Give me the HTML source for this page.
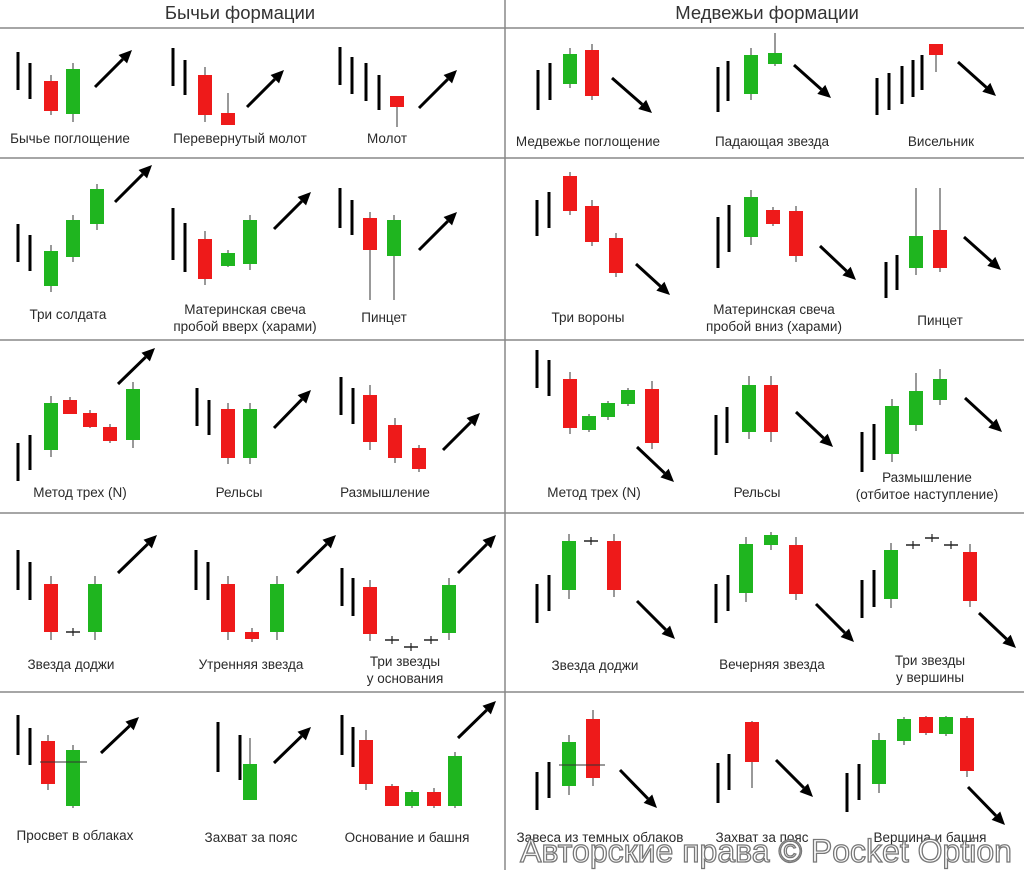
<!DOCTYPE html>
<html><head><meta charset="utf-8">
<style>
html,body{margin:0;padding:0;background:#fff;}
svg{display:block;font-family:"Liberation Sans","DejaVu Sans",sans-serif;}
</style></head>
<body>
<svg id="chart" width="1024" height="870" viewBox="0 0 1024 870" xmlns="http://www.w3.org/2000/svg">
<rect x="0" y="0" width="1024" height="870" fill="#fff"/>
<g stroke="#888" stroke-width="1.5">
<line x1="0" y1="28" x2="1024" y2="28"/>
<line x1="0" y1="158" x2="1024" y2="158"/>
<line x1="0" y1="340" x2="1024" y2="340"/>
<line x1="0" y1="513" x2="1024" y2="513"/>
<line x1="0" y1="692" x2="1024" y2="692"/>
<line x1="505" y1="0" x2="505" y2="870"/>
</g>
<text x="240" y="19" font-size="18.5" text-anchor="middle" fill="#333">Бычьи формации</text>
<text x="767" y="19" font-size="18.5" text-anchor="middle" fill="#333">Медвежьи формации</text>
<g id="marks"></g>
<text x="766" y="862" font-size="32" text-anchor="middle" fill="#fff" stroke="#777" stroke-width="1.3">Авторские права © Pocket Option</text>
</svg>
<script>
// Pattern names
const patternNames = ["Бычье поглощение","Перевернутый молот","Молот","Три солдата","Материнская свеча|пробой вверх (харами)","Пинцет","Метод трех (N)","Рельсы","Размышление","Звезда доджи","Утренняя звезда","Три звезды|у основания","Просвет в облаках","Захват за пояс","Основание и башня","Медвежье поглощение","Падающая звезда","Висельник","Три вороны","Материнская свеча|пробой вниз (харами)","Пинцет","Метод трех (N)","Рельсы","Размышление|(отбитое наступление)","Звезда доджи","Вечерняя звезда","Три звезды|у вершины","Завеса из темных облаков","Захват за пояс","Вершина и башня"];
// label anchor [x, y]
const labelPos = [[70,143],[240,143],[387,143],[68,319],[245,314],[384,322],[80,497],[239,497],[385,497],[71,669],[251,669],[405,666],[75,840],[251,842],[407,842],[588,146],[772,146],[941,146],[588,322],[774,314],[940,325],[594,497],[757,497],[927,482],[595,670],[772,669],[930,665],[600,842],[762,842],[930,842]];
// trend lines per pattern: [x, top, bottom]
const trendLines = [
 [[18,52,90],[30,63,99]],[[173,48,86],[185,60,95]],[[340,47,85],[352,57,94],[366,63,101],[379,75,110]],
 [[18,224,262],[30,235,271]],[[173,208,260],[185,223,272]],[[340,188,228],[352,200,235]],
 [[18,443,481],[30,435,470]],[[197,388,426],[209,400,435]],[[341,377,415],[353,388,424]],
 [[18,550,590],[30,562,600]],[[196,550,590],[208,562,600]],[[342,568,606],[353,578,616]],
 [[18,715,755],[30,728,765]],[[218,722,772],[240,735,780]],[[342,715,755],[353,727,767]],
 [[538,70,110],[550,63,100]],[[718,67,112],[728,61,101]],[[877,78,115],[889,73,110],[902,66,104],[913,60,97],[922,55,90]],
 [[537,200,236],[549,192,228]],[[718,217,268],[729,205,252]],[[886,262,298],[897,255,290]],
 [[537,350,388],[549,360,396]],[[716,415,455],[727,407,443]],[[862,432,472],[874,424,460]],
 [[537,584,623],[549,575,611]],[[716,584,623],[728,575,611]],[[862,580,618],[874,570,607]],
 [[537,772,810],[549,762,798]],[[718,763,803],[729,754,790]],[[847,773,812],[859,764,800]]
];
// candles: [x, high, bodyTop, bodyBottom, low, type] type g=green r=red d=doji
const candles = [
 [[51,75,81,111,115,"r"],[73,63,69,114,122,"g"]],
 [[205,67,75,115,122,"r"],[228,93,113,125,125,"r"]],
 [[397,96,96,107,127,"r"]],
 [[51,245,251,286,292,"g"],[73,215,220,257,262,"g"],[97,184,189,224,230,"g"]],
 [[205,231,239,279,285,"r"],[228,250,253,266,267,"g"],[250,215,220,264,270,"g"]],
 [[370,212,218,250,300,"r"],[394,215,220,256,300,"g"]],
 [[51,396,403,450,457,"g"],[70,397,400,414,414,"r"],[90,410,413,427,428,"r"],[110,424,427,441,443,"r"],[133,382,389,440,448,"g"]],
 [[228,403,409,458,464,"r"],[250,403,409,458,464,"g"]],
 [[370,385,395,442,450,"r"],[395,418,425,458,463,"r"],[419,445,448,469,472,"r"]],
 [[51,576,584,632,640,"r"],[73,628,632,632,636,"d"],[95,576,584,632,640,"g"]],
 [[228,576,584,632,640,"r"],[252,628,632,639,642,"r"],[277,576,584,632,640,"g"]],
 [[370,580,587,634,641,"r"],[392,636,640,640,644,"d"],[411,643,647,647,651,"d"],[431,636,640,640,644,"d"],[449,578,585,633,640,"g"]],
 [[48,735,741,784,790,"r"],[73,745,750,806,808,"g"]],
 [[250,738,764,800,800,"g"]],
 [[366,730,740,784,790,"r"],[392,784,786,806,806,"r"],[412,790,792,806,808,"g"],[434,788,792,806,808,"r"],[455,752,756,806,808,"g"]],
 [[570,48,54,84,88,"g"],[592,44,50,96,100,"r"]],
 [[751,48,55,94,100,"g"],[775,33,53,64,66,"g"]],
 [[936,44,44,55,72,"r"]],
 [[570,172,176,211,215,"r"],[592,200,206,242,246,"r"],[616,233,238,273,277,"r"]],
 [[751,190,197,237,245,"g"],[773,207,210,224,226,"r"],[796,206,211,256,262,"r"]],
 [[916,188,236,268,275,"g"],[940,188,230,268,272,"r"]],
 [[570,372,379,428,434,"r"],[589,414,416,430,432,"g"],[608,401,403,417,420,"g"],[628,388,390,404,406,"g"],[652,381,389,443,449,"r"]],
 [[749,376,385,432,439,"g"],[771,376,385,432,442,"r"]],
 [[892,399,406,454,462,"g"],[916,373,391,425,431,"g"],[940,369,379,400,405,"g"]],
 [[569,534,541,590,599,"g"],[591,537,541,541,545,"d"],[614,534,541,590,597,"r"]],
 [[746,537,544,593,602,"g"],[771,532,535,545,550,"g"],[796,537,545,594,600,"r"]],
 [[891,543,550,599,608,"g"],[913,541,545,545,549,"d"],[932,534,538,538,542,"d"],[951,541,545,545,549,"d"],[970,544,552,601,607,"r"]],
 [[569,735,742,786,795,"g"],[593,710,719,778,786,"r"]],
 [[752,721,722,762,788,"r"]],
 [[879,733,740,784,793,"g"],[904,717,719,741,745,"g"],[926,716,717,733,735,"r"],[946,716,717,734,736,"g"],[967,716,718,771,777,"r"]]
];
// arrows [x1,y1,x2,y2]
const arrows = [[95,87,132,50],[247,107,284,70],[419,108,457,70],[115,202,152,165],[274,229,311,192],[419,250,457,212],[118,384,155,348],[274,428,311,390],[443,450,480,413],[118,573,157,535],[297,573,336,535],[458,573,496,535],[101,753,139,717],[274,763,311,727],[458,738,496,701],
 [612,78,652,113],[794,65,831,98],[958,62,996,96],[636,264,670,295],[820,246,856,280],[964,237,1001,270],[637,447,674,482],[796,412,833,447],[965,398,1002,432],[637,601,675,639],[816,604,854,642],[979,613,1016,648],[620,770,657,808],[776,760,813,797],[968,787,1005,825]];
// cloud reference lines [x1,x2,y]
const refLines = [[40,87,762],[559,605,765]];

const NS="http://www.w3.org/2000/svg";
const g=document.getElementById('marks');
function mk(tag,attrs,parent){const e=document.createElementNS(NS,tag);for(const k in attrs)e.setAttribute(k,attrs[k]);(parent||g).appendChild(e);return e;}
const BW=14;
patternNames.forEach((name,i)=>{
  const grp=mk('g',{});
  
  
  trendLines[i].forEach(t=>{
    const l=mk('line',{x1:t[0],y1:t[1],x2:t[0],y2:t[2],stroke:'#000','stroke-width':3},grp);
    
    
  });
  candles[i].forEach(c=>{
    const cg=mk('g',{},grp);
    
    
    if(c[5]==='d'){
      mk('line',{x1:c[0],y1:c[1],x2:c[0],y2:c[4],stroke:'#222','stroke-width':1.2},cg);
      mk('line',{x1:c[0]-7,y1:c[2],x2:c[0]+7,y2:c[2],stroke:'#222','stroke-width':1.5},cg);
    } else {
      mk('line',{x1:c[0],y1:c[1],x2:c[0],y2:c[4],stroke:'#555','stroke-width':1.2},cg);
      mk('rect',{x:c[0]-BW/2,y:c[2],width:BW,height:Math.max(2,c[3]-c[2]),fill:c[5]==='g'?'#1fb51f':'#ee1a1a'},cg);
    }
  });
  const a=arrows[i];
  const ag=mk('g',{},grp);
  
  
  const ang=Math.atan2(a[3]-a[1],a[2]-a[0]);
  const L=13,W=6;
  const bx=a[2]-L*Math.cos(ang),by=a[3]-L*Math.sin(ang);
  mk('line',{x1:a[0],y1:a[1],x2:bx,y2:by,stroke:'#000','stroke-width':3},ag);
  const px=-Math.sin(ang)*W,py=Math.cos(ang)*W;
  mk('polygon',{points:`${a[2]},${a[3]} ${bx+px},${by+py} ${bx-px},${by-py}`,fill:'#000'},ag);
  const lp=labelPos[i];
  const t=mk('text',{x:lp[0],y:lp[1],'font-size':13.5,'text-anchor':'middle',fill:'#2a2a2a'},grp);
  
  
  name.split('|').forEach((s,k)=>{const ts=mk('tspan',{x:lp[0],dy:k?17:0},t);ts.textContent=s;});
});
refLines.forEach(r=>{
  const l=mk('line',{x1:r[0],y1:r[2],x2:r[1],y2:r[2],stroke:'#333','stroke-width':1});
  
  
});
</script>
</body></html>
